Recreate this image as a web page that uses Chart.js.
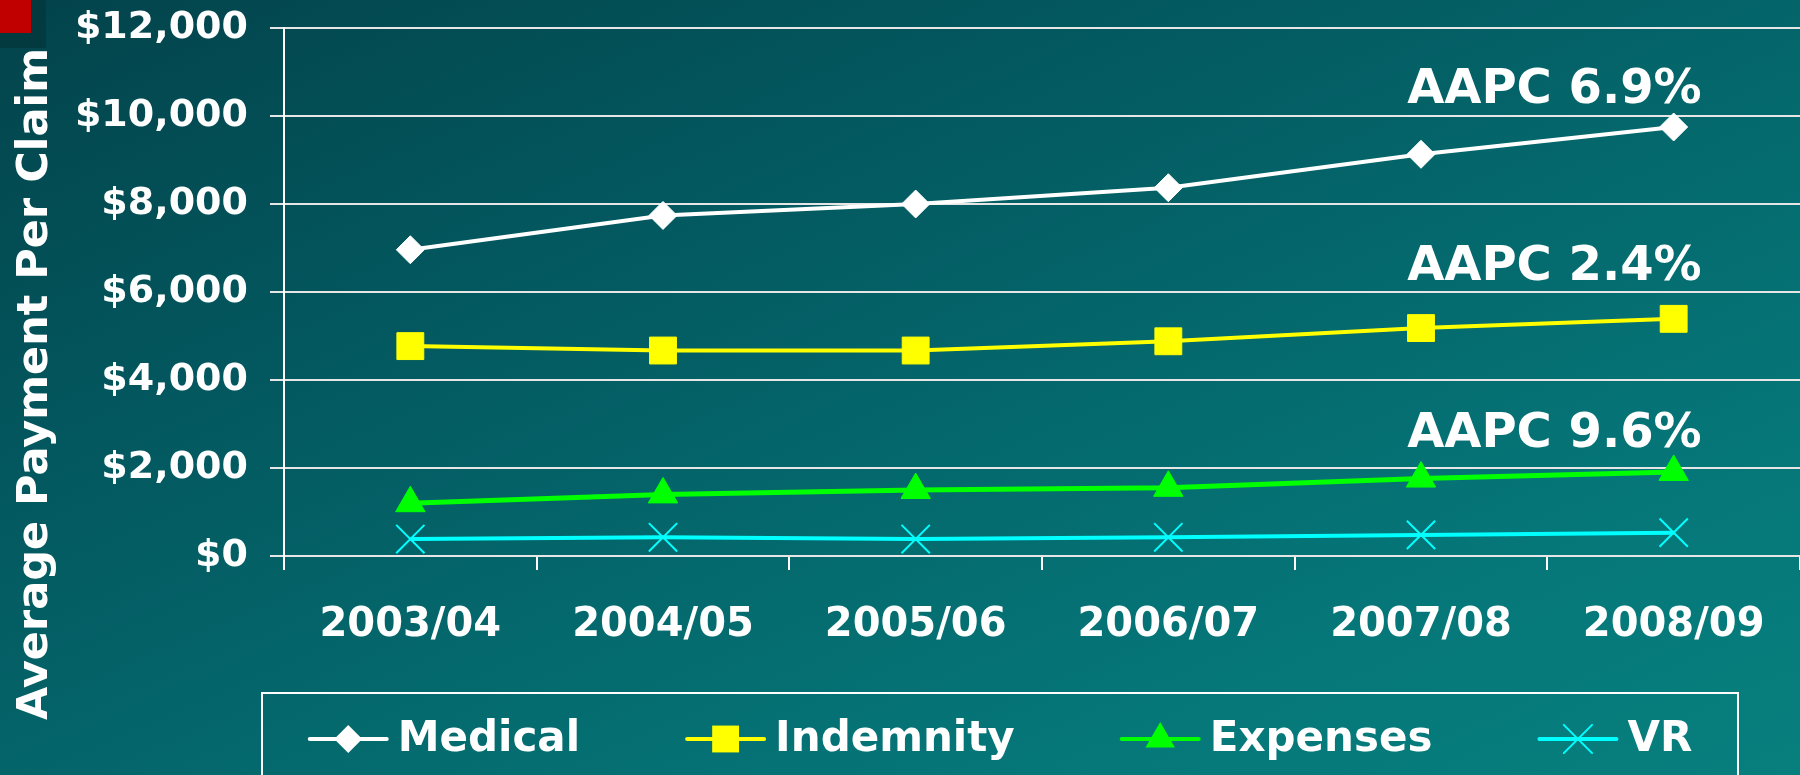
<!DOCTYPE html>
<html><head><meta charset="utf-8">
<script src="https://cdn.jsdelivr.net/npm/chart.js@4/dist/chart.umd.min.js"></script>
<style>
html,body{margin:0;padding:0;width:1800px;height:775px;overflow:hidden;}
body{background:linear-gradient(to bottom right,#03434b 0%,#03575e 30%,#04686c 55%,#06787a 80%,#077f7d 100%);position:relative;}
.shadow{position:absolute;left:0;top:0;width:46px;height:48px;background:#023a40;}
.red{position:absolute;left:0;top:0;width:31px;height:33px;background:#c00000;}
#c{position:absolute;left:0;top:0;}
</style></head><body>
<div class="shadow"></div><div class="red"></div>
<canvas id="c" width="1800" height="775"></canvas>
<script>
const categories = ['2003/04','2004/05','2005/06','2006/07','2007/08','2008/09'];
const medical   = [6960, 7740, 8000, 8370, 9130, 9750];
const indemnity = [4770, 4670, 4670, 4880, 5180, 5390];
const expenses  = [1200, 1400, 1500, 1550, 1760, 1910];
const vr        = [385, 425, 385, 425, 480, 530];
const seriesNames = ['Medical','Indemnity','Expenses','VR'];
const aapcLabels = ['AAPC 6.9%','AAPC 2.4%','AAPC 9.6%'];
const aapcAnchor = [10580, 6550, 2750];
const yAxisTitle = 'Average Payment Per Claim';

const FONT = '"DejaVu Sans", "Liberation Sans", sans-serif';

function marker(ctx, style, r, x, y, color, bw){
  ctx.save();
  ctx.fillStyle = color; ctx.strokeStyle = color; ctx.lineWidth = bw;
  ctx.beginPath();
  if (style === 'rectRot'){
    ctx.moveTo(x, y - r); ctx.lineTo(x + r, y); ctx.lineTo(x, y + r); ctx.lineTo(x - r, y); ctx.closePath(); ctx.fill();
  } else if (style === 'rect'){
    const s = r * Math.SQRT1_2; ctx.rect(x - s, y - s, 2*s, 2*s); ctx.fill();
  } else if (style === 'triangle'){
    ctx.moveTo(x, y - r); ctx.lineTo(x + r*0.866, y + r/2); ctx.lineTo(x - r*0.866, y + r/2); ctx.closePath(); ctx.fill();
  } else if (style === 'crossRot'){
    const o = r * Math.SQRT1_2;
    ctx.moveTo(x - o, y - o); ctx.lineTo(x + o, y + o); ctx.moveTo(x + o, y - o); ctx.lineTo(x - o, y + o); ctx.stroke();
  }
  ctx.restore();
}

const extras = {
  id: 'extras',
  afterDraw(chart){
    const ctx = chart.ctx;
    const xs = chart.scales.x, ys = chart.scales.y;
    // y-axis title
    ctx.save();
    ctx.fillStyle = '#ffffff';
    ctx.font = 'bold 43px ' + FONT;
    ctx.translate(36, 384);
    ctx.rotate(-Math.PI/2);
    ctx.textAlign = 'center'; ctx.textBaseline = 'middle';
    ctx.fillText(yAxisTitle, 0, 0);
    ctx.restore();
    // AAPC annotations
    ctx.save();
    ctx.fillStyle = '#ffffff';
    ctx.font = 'bold 48px ' + FONT;
    ctx.textAlign = 'right'; ctx.textBaseline = 'middle';
    const lastX = xs.getPixelForValue(categories.length - 1);
    aapcLabels.forEach((t, i) => ctx.fillText(t, lastX + 28, ys.getPixelForValue(aapcAnchor[i])));
    ctx.restore();
    // legend
    ctx.save();
    ctx.strokeStyle = '#ffffff'; ctx.lineWidth = 2;
    ctx.strokeRect(262, 693, 1476, 130);
    ctx.font = 'bold 42px ' + FONT;
    ctx.textBaseline = 'middle'; ctx.textAlign = 'left';
    const ds = chart.data.datasets;
    const lineLen = 77, gap = 11, spacing = 107, ly = 739;
    const widths = ds.map(d => lineLen + gap + ctx.measureText(d.label).width);
    const total = widths.reduce((a,b)=>a+b,0) + spacing*(ds.length-1);
    let x = 1001 - total/2;
    ds.forEach((d, i) => {
      ctx.strokeStyle = d.borderColor; ctx.lineWidth = 4; ctx.lineCap = 'round';
      ctx.beginPath(); ctx.moveTo(x, ly); ctx.lineTo(x + lineLen, ly); ctx.stroke();
      marker(ctx, d.pointStyle, d.pointRadius, x + lineLen/2, ly, d.borderColor, d.pointStyle === 'crossRot' ? 2 : 1);
      ctx.fillStyle = '#ffffff';
      ctx.fillText(d.label, x + lineLen + gap, ly + 1);
      x += widths[i] + spacing;
    });
    ctx.restore();
  }
};

new Chart(document.getElementById('c'), {
  type: 'line',
  data: {
    labels: categories,
    datasets: [
      {label: seriesNames[0], data: medical, borderColor:'#ffffff', backgroundColor:'#ffffff', borderWidth:4,
       pointStyle:'rectRot', pointRadius:14, pointBackgroundColor:'#ffffff', pointBorderColor:'#ffffff', pointBorderWidth:1},
      {label: seriesNames[1], data: indemnity, borderColor:'#ffff00', backgroundColor:'#ffff00', borderWidth:4,
       pointStyle:'rect', pointRadius:19, pointBackgroundColor:'#ffff00', pointBorderColor:'#ffff00', pointBorderWidth:1},
      {label: seriesNames[2], data: expenses, borderColor:'#00ff00', backgroundColor:'#00ff00', borderWidth:5,
       pointStyle:'triangle', pointRadius:17, pointBackgroundColor:'#00ff00', pointBorderColor:'#00ff00', pointBorderWidth:1},
      {label: seriesNames[3], data: vr, borderColor:'#00ffff', backgroundColor:'#00ffff', borderWidth:4,
       pointStyle:'crossRot', pointRadius:20, pointBackgroundColor:'#00ffff', pointBorderColor:'#00ffff', pointBorderWidth:2}
    ]
  },
  options: {
    responsive: false,
    animation: false,
    layout: { autoPadding: false, padding: { top: 28, left: 0, right: 0, bottom: 0 } },
    plugins: { legend: { display: false }, tooltip: { enabled: false } },
    elements: { line: { tension: 0 } },
    scales: {
      x: {
        offset: true,
        grid: { drawOnChartArea: false, drawTicks: true, tickLength: 14, color: '#ffffff', lineWidth: 2, offset: true },
        border: { display: true, color: '#e6e6e6', width: 2 },
        ticks: { color: '#ffffff', font: { family: FONT, weight: 'bold', size: 40 }, padding: 32, maxRotation: 0, autoSkip: false },
        afterFit(s){ s.height = 219; s.paddingLeft = 0; s.paddingRight = 0; }
      },
      y: {
        min: 0, max: 12000,
        ticks: { stepSize: 2000, color: '#ffffff', font: { family: FONT, weight: 'bold', size: 38 }, padding: 22,
                 callback: v => '$' + Number(v).toLocaleString('en-US') },
        grid: { color: '#e6e6e6', lineWidth: 2, tickLength: 14, drawTicks: true },
        border: { display: true, color: '#ffffff', width: 2 },
        afterFit(s){ s.width = 284; s.paddingTop = 0; s.paddingBottom = 0; }
      }
    }
  },
  plugins: [extras]
});
</script>
</body></html>
